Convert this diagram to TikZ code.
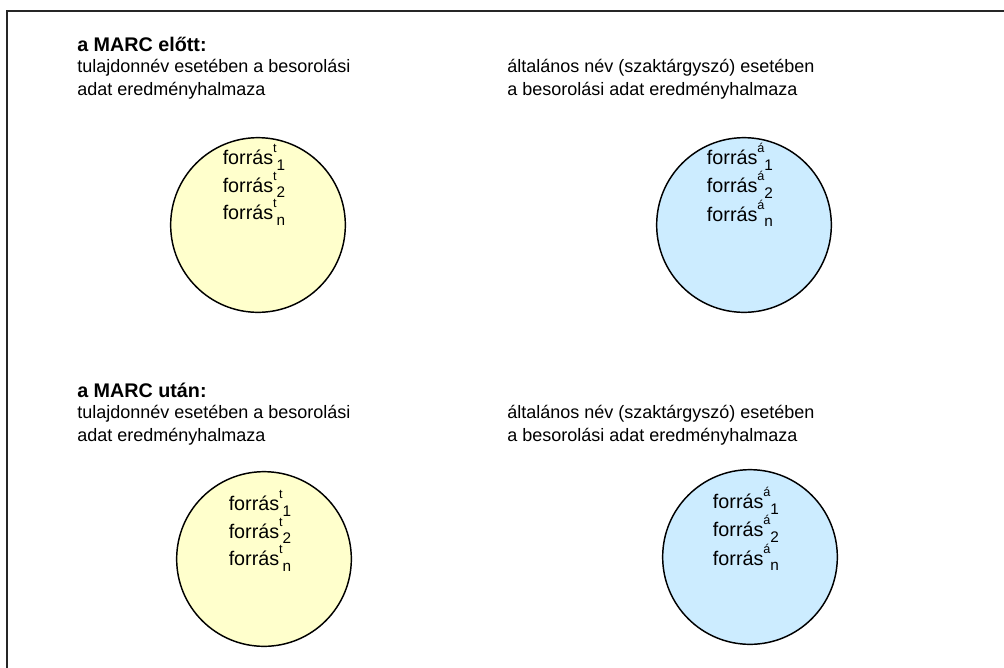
\documentclass[tikz,border=0pt]{standalone}
\usepackage{fontspec}
\setmainfont{Liberation Sans}
\usetikzlibrary{positioning}

\definecolor{paleyellow}{HTML}{FFFFCC}
\definecolor{paleblue}{HTML}{CCECFF}
\newcommand{\forras}[2]{forrás\raisebox{.6em}{\fontsize{9.5}{9.5}\selectfont #1}\raisebox{-.3em}{\fontsize{11.5}{11.5}\selectfont #2}}

\begin{document}
\begin{tikzpicture}[x=0.75pt,y=-0.75pt,
    every node/.style={font=\fontsize{13.5}{17.25}\selectfont},
    title/.style={anchor=base west, inner sep=0pt, font=\fontsize{14.8}{17.25}\selectfont\bfseries},
    caption/.style={anchor=base west, inner sep=0pt, align=left},
    disk/.style={circle, draw, line width=1.1pt, minimum size=131pt, inner sep=0pt},
    srclist/.style={align=left, inner sep=0pt, font=\fontsize{14.8}{17.25}\selectfont}]
    \useasboundingbox (0,0) rectangle (1004,668);
    \clip (0,0) rectangle (1004,668);
    \draw [line width=1.5pt, black!85] (7,11) rectangle (1030,690);

    % a MARC előtt
    \node [title] (before) at (77,51) {a MARC előtt:};
    \node [caption] (propbefore) at (77,95) {tulajdonnév esetében a besorolási\\adat eredményhalmaza};
    \node [caption] (genbefore) at (507,95) {általános név (szaktárgyszó) esetében\\a besorolási adat eredményhalmaza};
    \node [disk, fill=paleyellow] (propdiskbefore) at (258,225) {};
    \node [srclist] (propsrcbefore) at ([xshift=-3pt,yshift=30pt]propdiskbefore.center) {\forras{t}{1}\\\forras{t}{2}\\\forras{t}{n}};
    \node [disk, fill=paleblue] (gendiskbefore) at (744,225) {};
    \node [srclist] (gensrcbefore) at ([xshift=-3pt,yshift=30pt]gendiskbefore.center) {\forras{á}{1}\\\forras{á}{2}\\\forras{á}{n}};

    % a MARC után
    \node [title] (after) at (77,397) {a MARC után:};
    \node [caption] (propafter) at (77,441) {tulajdonnév esetében a besorolási\\adat eredményhalmaza};
    \node [caption] (genafter) at (507,441) {általános név (szaktárgyszó) esetében\\a besorolási adat eredményhalmaza};
    \node [disk, fill=paleyellow] (propdiskafter) at (264,559) {};
    \node [srclist] (propsrcafter) at ([xshift=-3pt,yshift=21pt]propdiskafter.center) {\forras{t}{1}\\\forras{t}{2}\\\forras{t}{n}};
    \node [disk, fill=paleblue] (gendiskafter) at (750,557) {};
    \node [srclist] (gensrcafter) at ([xshift=-3pt,yshift=21pt]gendiskafter.center) {\forras{á}{1}\\\forras{á}{2}\\\forras{á}{n}};
\end{tikzpicture}
\end{document}
